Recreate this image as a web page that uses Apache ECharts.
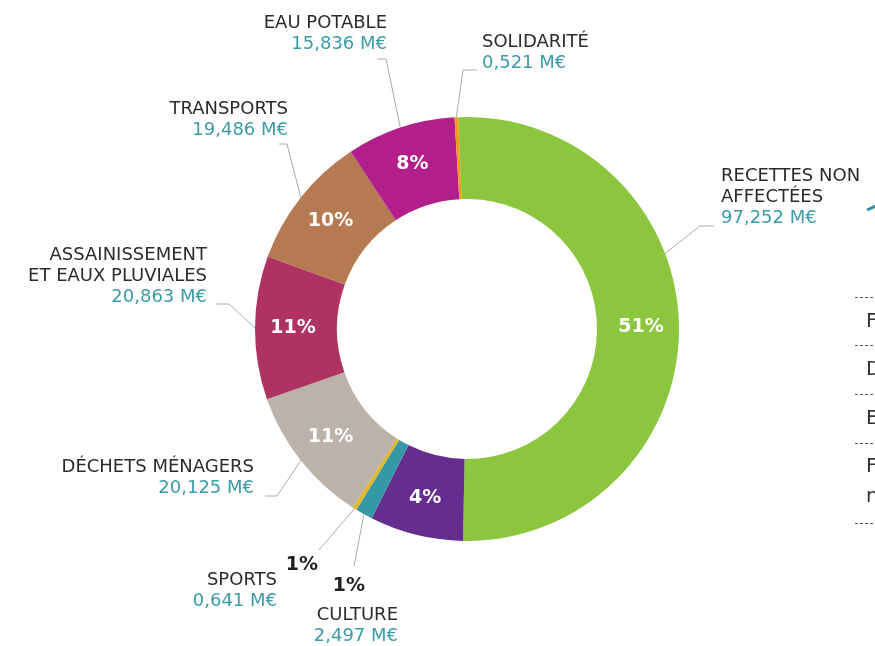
<!DOCTYPE html>
<html lang="fr">
<head>
<meta charset="utf-8">
<title>Répartition des recettes</title>
<script src="https://cdn.jsdelivr.net/npm/echarts@6/dist/echarts.min.js"></script>
<style>
  html, body { margin: 0; padding: 0; background: #ffffff; }
  #chart { width: 875px; height: 646px; }
</style>
</head>
<body>
<div id="chart"></div>
<script>
// Postes, dans l'ordre horaire à partir du haut
const categories = [
  'RECETTES NON AFFECTÉES', 'AUTRES', 'CULTURE', 'SPORTS',
  'DÉCHETS MÉNAGERS', 'ASSAINISSEMENT ET EAUX PLUVIALES',
  'TRANSPORTS', 'EAU POTABLE', 'SOLIDARITÉ'
];
// Libellés affichés (avec retours à la ligne)
const labelNames = [
  'RECETTES NON\nAFFECTÉES', '', 'CULTURE', 'SPORTS',
  'DÉCHETS MÉNAGERS', 'ASSAINISSEMENT\nET EAUX PLUVIALES',
  'TRANSPORTS', 'EAU POTABLE', 'SOLIDARITÉ'
];
// Montants en millions d'euros
const amounts = [97.252, 13.6, 2.497, 0.641, 20.125, 20.863, 19.486, 15.836, 0.521];
// Parts affichées sur l'anneau
const shareLabels = ['51%', '4%', '1%', '1%', '11%', '11%', '10%', '8%', ''];
const sliceColors = ['#8cc63f', '#652d90', '#3598a5', '#dfb82b', '#bbb2a9',
                     '#af3362', '#b57a51', '#b21f8b', '#f39a1e'];

const FONT = '"DejaVu Sans", sans-serif';
const CENTER = [467, 329];
const RADIUS = [130, 212];
const START = 92.4;

// Placement des étiquettes extérieures et de leurs traits de rappel
const outerPlacement = {
  0: { x: 721, y: 166, align: 'left',  pts: [[714, 226], [700, 226]], frac: 0.39 },
  2: { x: 398, y: 605, align: 'right', pts: [[354, 566], [354, 566]] },
  3: { x: 277, y: 570, align: 'right', pts: [[319, 550], [319, 550]] },
  4: { x: 254, y: 457, align: 'right', pts: [[265, 496], [277, 496]] },
  5: { x: 207, y: 245, align: 'right', pts: [[216, 304], [229, 304]] },
  6: { x: 288, y: 99,  align: 'right', pts: [[279, 144], [287, 144]] },
  7: { x: 387, y: 13,  align: 'right', pts: [[377, 59], [386, 59]] },
  8: { x: 482, y: 32,  align: 'left',  pts: [[477, 70], [463, 70]] }
};
// Parts des petites tranches, posées hors de l'anneau
const smallShareSpot = { 2: [349, 586], 3: [302, 565] };

const total = amounts.reduce((a, b) => a + b, 0);
function edgePoint(index, frac) {
  let cum = 0;
  for (let i = 0; i < index; i++) cum += amounts[i];
  const clock = (90 - START) + 360 * (cum + frac * amounts[index]) / total;
  const rad = clock * Math.PI / 180;
  return [CENTER[0] + RADIUS[1] * Math.sin(rad), CENTER[1] - RADIUS[1] * Math.cos(rad)];
}
function fmt(v) { return v.toFixed(3).replace('.', ',') + ' M€'; }

const sliceData = categories.map((name, i) => ({
  name: name,
  value: amounts[i],
  itemStyle: { color: sliceColors[i] },
  label: smallShareSpot[i] ? { color: '#231f20' } : {}
}));
const labelData = categories.map((name, i) => ({
  name: name,
  value: amounts[i],
  label: { show: !!outerPlacement[i] },
  labelLine: { show: !!outerPlacement[i] }
}));

const chart = echarts.init(document.getElementById('chart'), null, { renderer: 'canvas' });
chart.setOption({
  backgroundColor: '#ffffff',
  animation: false,
  series: [
    {
      type: 'pie',
      center: CENTER,
      radius: RADIUS,
      startAngle: START,
      clockwise: true,
      silent: true,
      avoidLabelOverlap: false,
      minShowLabelAngle: 0,
      label: {
        show: true,
        position: 'inside',
        formatter: p => shareLabels[p.dataIndex],
        color: '#ffffff',
        fontFamily: FONT,
        fontWeight: 'bold',
        fontSize: 19
      },
      labelLine: { show: false },
      labelLayout: function (params) {
        const spot = smallShareSpot[params.dataIndex];
        if (!spot) return {};
        return { x: spot[0], y: spot[1], align: 'center', verticalAlign: 'middle' };
      },
      data: sliceData
    },
    {
      type: 'pie',
      center: CENTER,
      radius: RADIUS,
      startAngle: START,
      clockwise: true,
      silent: true,
      avoidLabelOverlap: false,
      minShowLabelAngle: 0,
      itemStyle: { color: 'rgba(0,0,0,0)' },
      label: {
        show: true,
        position: 'outside',
        formatter: p => '{n|' + labelNames[p.dataIndex].split('\n').join('}\n{n|') + '}\n{v|' + fmt(amounts[p.dataIndex]) + '}',
        rich: {
          n: { fontFamily: FONT, fontSize: 18, color: '#2b2b2b', lineHeight: 21 },
          v: { fontFamily: FONT, fontSize: 18, color: '#3b9ba6', lineHeight: 21 }
        }
      },
      labelLine: {
        show: true,
        lineStyle: { color: '#ababab', width: 1 }
      },
      labelLayout: function (params) {
        const p = outerPlacement[params.dataIndex];
        if (!p) return {};
        const anchor = edgePoint(params.dataIndex, p.frac != null ? p.frac : 0.5);
        return {
          x: p.x,
          y: p.y,
          align: p.align,
          verticalAlign: 'top',
          labelLinePoints: [anchor, p.pts[1], p.pts[0]]
        };
      },
      data: labelData
    }
  ],
  graphic: [
    { type: 'line', shape: { x1: 867, y1: 210, x2: 876, y2: 206 }, style: { stroke: '#2a8f9a', lineWidth: 3 } },
    { type: 'line', shape: { x1: 855, y1: 297.5, x2: 875, y2: 297.5 }, style: { stroke: '#555', lineWidth: 1, lineDash: [3, 2] } },
    { type: 'line', shape: { x1: 855, y1: 345.5, x2: 875, y2: 345.5 }, style: { stroke: '#555', lineWidth: 1, lineDash: [3, 2] } },
    { type: 'line', shape: { x1: 855, y1: 394.5, x2: 875, y2: 394.5 }, style: { stroke: '#555', lineWidth: 1, lineDash: [3, 2] } },
    { type: 'line', shape: { x1: 855, y1: 443.5, x2: 875, y2: 443.5 }, style: { stroke: '#555', lineWidth: 1, lineDash: [3, 2] } },
    { type: 'line', shape: { x1: 855, y1: 523.5, x2: 875, y2: 523.5 }, style: { stroke: '#555', lineWidth: 1, lineDash: [3, 2] } },
    { type: 'text', x: 866, y: 322, style: { text: 'F', font: '20px "DejaVu Sans"', fill: '#333', verticalAlign: 'middle' } },
    { type: 'text', x: 866, y: 370, style: { text: 'D', font: '20px "DejaVu Sans"', fill: '#333', verticalAlign: 'middle' } },
    { type: 'text', x: 866, y: 419, style: { text: 'E', font: '20px "DejaVu Sans"', fill: '#333', verticalAlign: 'middle' } },
    { type: 'text', x: 866, y: 467, style: { text: 'F', font: '20px "DejaVu Sans"', fill: '#333', verticalAlign: 'middle' } },
    { type: 'text', x: 866, y: 497, style: { text: 'n', font: '20px "DejaVu Sans"', fill: '#333', verticalAlign: 'middle' } }
  ]
});
</script>
</body>
</html>
